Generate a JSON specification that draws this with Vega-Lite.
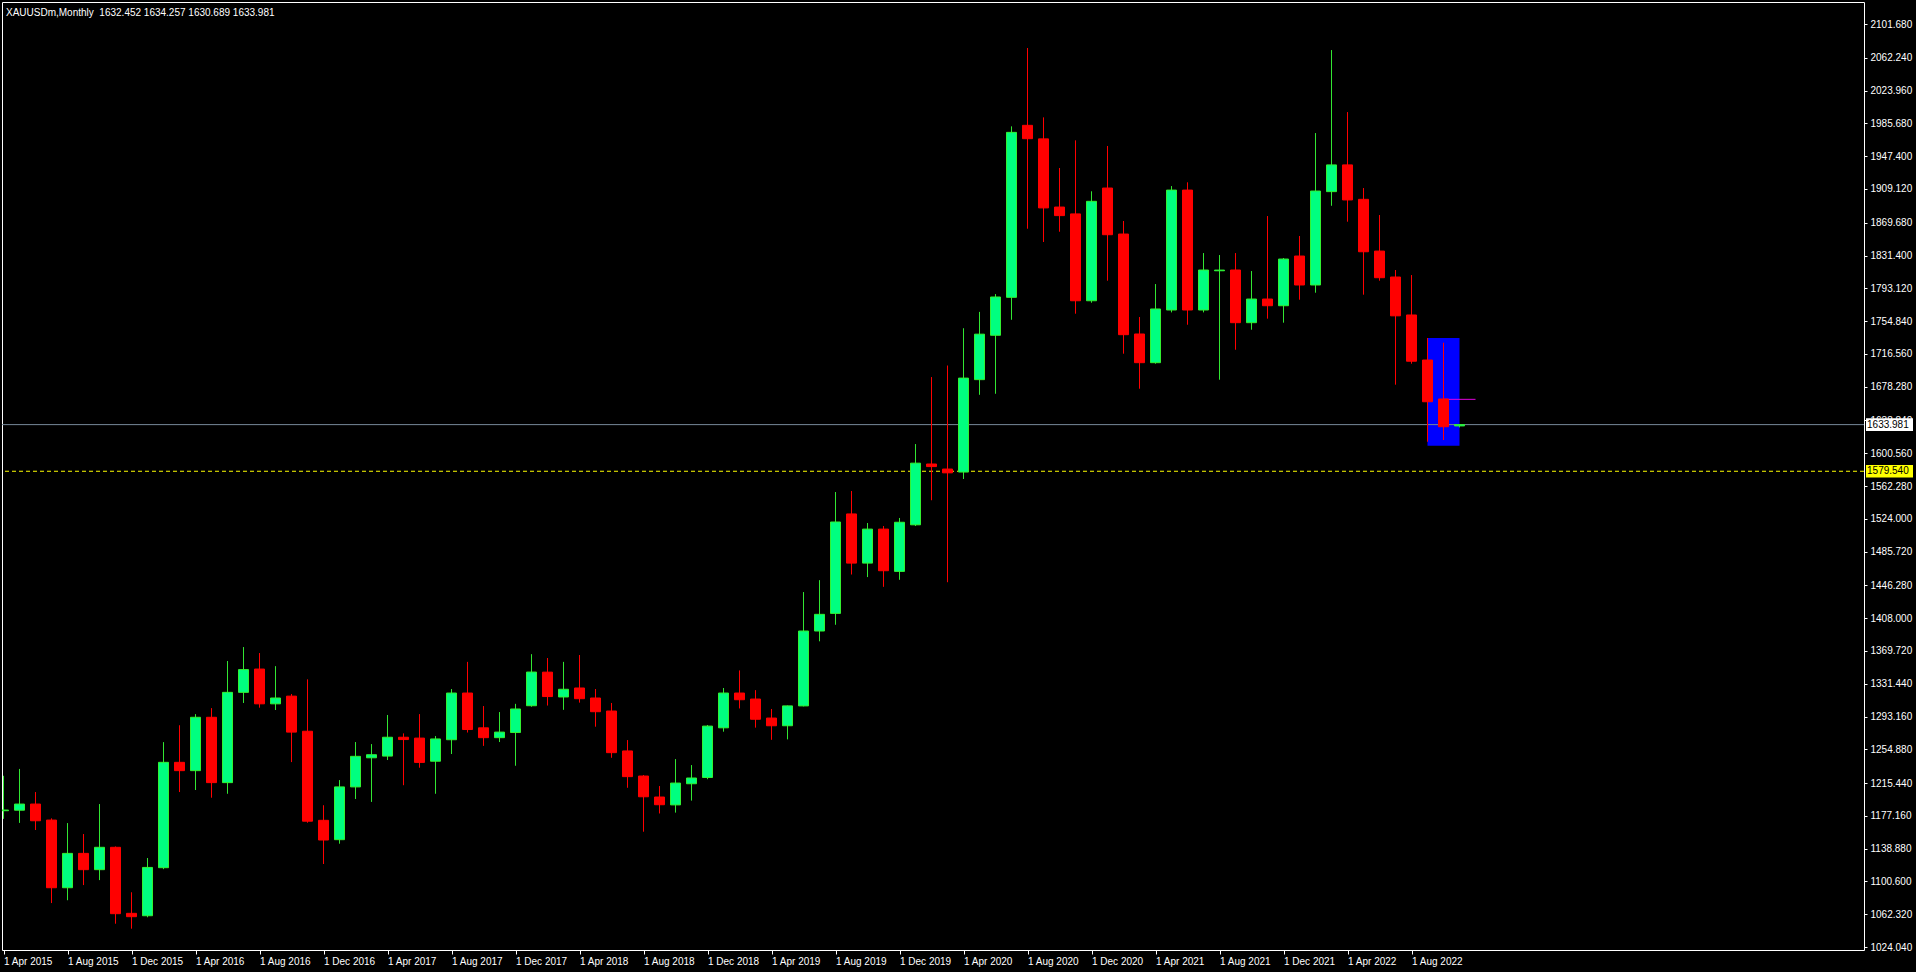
{
  "$schema": "https://vega.github.io/schema/vega-lite/v6.json",
  "width": 1862,
  "height": 948,
  "autosize": {"type": "none"},
  "padding": {"left": 2, "top": 2, "right": 52, "bottom": 22},
  "background": "#000000",
  "config": {
    "view": {"stroke": "#ffffff", "strokeWidth": 1},
    "axis": {"labelColor": "#ffffff", "tickColor": "#ffffff", "labelFont": "Liberation Sans", "labelFontSize": 10, "domain": false, "grid": false, "labelOverlap": false, "labelFlush": false, "labelBound": false, "labelSeparation": 0},
    "axisX": {"labelAlign": "left", "labelBaseline": "top", "labelPadding": 2, "tickSize": 4},
    "axisY": {"labelPadding": 3, "tickSize": 3}
  },
  "title": {
    "text": "XAUUSDm,Monthly\u00a0 1632.452 1634.257 1630.689 1633.981",
    "anchor": "start",
    "frame": "group",
    "orient": "top",
    "baseline": "alphabetic",
    "offset": -24,
    "dx": 4,
    "color": "#ffffff",
    "font": "Liberation Sans",
    "fontSize": 10,
    "fontWeight": "normal"
  },
  "datasets": {
    "candles": [
      {"i": 0, "o": 1183.2, "h": 1224.0, "l": 1173.7, "c": 1184.0},
      {"i": 1, "o": 1183.8, "h": 1232.0, "l": 1169.0, "c": 1191.0},
      {"i": 2, "o": 1191.0, "h": 1205.0, "l": 1160.7, "c": 1171.5},
      {"i": 3, "o": 1172.3, "h": 1174.3, "l": 1075.4, "c": 1093.3},
      {"i": 4, "o": 1093.3, "h": 1168.8, "l": 1078.7, "c": 1133.4},
      {"i": 5, "o": 1133.4, "h": 1156.0, "l": 1096.4, "c": 1114.4},
      {"i": 6, "o": 1114.4, "h": 1191.0, "l": 1102.2, "c": 1140.5},
      {"i": 7, "o": 1140.5, "h": 1141.5, "l": 1051.3, "c": 1063.0},
      {"i": 8, "o": 1063.4, "h": 1088.0, "l": 1045.5, "c": 1059.5},
      {"i": 9, "o": 1060.6, "h": 1128.0, "l": 1058.8, "c": 1117.0},
      {"i": 10, "o": 1116.7, "h": 1263.3, "l": 1115.0, "c": 1239.7},
      {"i": 11, "o": 1239.7, "h": 1283.0, "l": 1205.0, "c": 1230.0},
      {"i": 12, "o": 1230.0, "h": 1296.0, "l": 1207.4, "c": 1292.3},
      {"i": 13, "o": 1292.3, "h": 1303.0, "l": 1198.4, "c": 1216.0},
      {"i": 14, "o": 1216.0, "h": 1358.0, "l": 1203.0, "c": 1321.4},
      {"i": 15, "o": 1321.4, "h": 1374.3, "l": 1309.0, "c": 1348.0},
      {"i": 16, "o": 1348.6, "h": 1367.3, "l": 1303.5, "c": 1308.0},
      {"i": 17, "o": 1308.0, "h": 1352.0, "l": 1300.8, "c": 1314.8},
      {"i": 18, "o": 1317.0, "h": 1319.5, "l": 1240.0, "c": 1275.0},
      {"i": 19, "o": 1276.0, "h": 1336.6, "l": 1169.2, "c": 1171.0},
      {"i": 20, "o": 1172.0, "h": 1189.6, "l": 1121.0, "c": 1149.0},
      {"i": 21, "o": 1149.4, "h": 1219.0, "l": 1144.7, "c": 1211.0},
      {"i": 22, "o": 1211.0, "h": 1263.4, "l": 1196.9, "c": 1246.7},
      {"i": 23, "o": 1245.0, "h": 1261.0, "l": 1193.5, "c": 1248.6},
      {"i": 24, "o": 1247.0, "h": 1295.0, "l": 1242.4, "c": 1269.0},
      {"i": 25, "o": 1269.0, "h": 1273.5, "l": 1213.0, "c": 1266.3},
      {"i": 26, "o": 1268.0, "h": 1296.0, "l": 1233.4, "c": 1239.6},
      {"i": 27, "o": 1241.0, "h": 1270.4, "l": 1203.0, "c": 1267.0},
      {"i": 28, "o": 1266.1, "h": 1325.3, "l": 1249.4, "c": 1320.6},
      {"i": 29, "o": 1320.6, "h": 1357.0, "l": 1274.5, "c": 1278.0},
      {"i": 30, "o": 1280.0, "h": 1305.4, "l": 1258.9, "c": 1268.5},
      {"i": 31, "o": 1268.5, "h": 1298.4, "l": 1263.4, "c": 1275.0},
      {"i": 32, "o": 1274.5, "h": 1308.0, "l": 1235.7, "c": 1302.0},
      {"i": 33, "o": 1305.8, "h": 1366.0, "l": 1304.6, "c": 1345.1},
      {"i": 34, "o": 1345.0, "h": 1361.5, "l": 1306.0, "c": 1316.5},
      {"i": 35, "o": 1316.0, "h": 1357.0, "l": 1301.0, "c": 1325.0},
      {"i": 36, "o": 1326.5, "h": 1365.0, "l": 1309.4, "c": 1314.0},
      {"i": 37, "o": 1314.8, "h": 1325.3, "l": 1281.3, "c": 1298.8},
      {"i": 38, "o": 1299.6, "h": 1309.0, "l": 1245.0, "c": 1251.0},
      {"i": 39, "o": 1253.0, "h": 1265.7, "l": 1210.0, "c": 1223.0},
      {"i": 40, "o": 1223.7, "h": 1224.9, "l": 1158.7, "c": 1199.5},
      {"i": 41, "o": 1199.2, "h": 1212.0, "l": 1180.0, "c": 1190.2},
      {"i": 42, "o": 1190.0, "h": 1243.5, "l": 1181.0, "c": 1215.5},
      {"i": 43, "o": 1214.7, "h": 1236.5, "l": 1195.0, "c": 1221.4},
      {"i": 44, "o": 1222.0, "h": 1283.3, "l": 1220.0, "c": 1282.0},
      {"i": 45, "o": 1280.0, "h": 1326.5, "l": 1275.5, "c": 1320.6},
      {"i": 46, "o": 1320.6, "h": 1347.0, "l": 1302.6, "c": 1312.8},
      {"i": 47, "o": 1313.6, "h": 1324.0, "l": 1280.2, "c": 1290.0},
      {"i": 48, "o": 1291.4, "h": 1302.0, "l": 1266.0, "c": 1282.4},
      {"i": 49, "o": 1282.4, "h": 1306.0, "l": 1266.5, "c": 1305.6},
      {"i": 50, "o": 1305.6, "h": 1438.5, "l": 1305.0, "c": 1393.0},
      {"i": 51, "o": 1393.0, "h": 1452.4, "l": 1381.0, "c": 1412.5},
      {"i": 52, "o": 1413.6, "h": 1555.3, "l": 1400.3, "c": 1520.3},
      {"i": 53, "o": 1529.7, "h": 1556.5, "l": 1459.0, "c": 1472.3},
      {"i": 54, "o": 1472.3, "h": 1519.1, "l": 1456.0, "c": 1512.0},
      {"i": 55, "o": 1512.0, "h": 1515.6, "l": 1444.6, "c": 1463.4},
      {"i": 56, "o": 1462.6, "h": 1525.0, "l": 1452.8, "c": 1520.0},
      {"i": 57, "o": 1517.0, "h": 1611.3, "l": 1515.6, "c": 1589.0},
      {"i": 58, "o": 1588.0, "h": 1689.5, "l": 1545.7, "c": 1585.0},
      {"i": 59, "o": 1582.1, "h": 1703.0, "l": 1450.0, "c": 1577.7},
      {"i": 60, "o": 1578.6, "h": 1746.5, "l": 1570.5, "c": 1688.3},
      {"i": 61, "o": 1686.5, "h": 1765.6, "l": 1668.8, "c": 1739.6},
      {"i": 62, "o": 1738.3, "h": 1786.4, "l": 1670.0, "c": 1783.0},
      {"i": 63, "o": 1782.6, "h": 1982.2, "l": 1756.4, "c": 1975.2},
      {"i": 64, "o": 1983.4, "h": 2073.7, "l": 1862.7, "c": 1967.8},
      {"i": 65, "o": 1967.6, "h": 1992.7, "l": 1847.2, "c": 1887.0},
      {"i": 66, "o": 1888.0, "h": 1933.6, "l": 1859.2, "c": 1878.0},
      {"i": 67, "o": 1880.0, "h": 1965.9, "l": 1763.5, "c": 1778.6},
      {"i": 68, "o": 1778.6, "h": 1906.4, "l": 1776.3, "c": 1894.7},
      {"i": 69, "o": 1910.2, "h": 1959.3, "l": 1802.0, "c": 1855.7},
      {"i": 70, "o": 1856.5, "h": 1871.7, "l": 1716.8, "c": 1739.0},
      {"i": 71, "o": 1739.8, "h": 1759.6, "l": 1675.9, "c": 1706.3},
      {"i": 72, "o": 1706.3, "h": 1798.1, "l": 1705.1, "c": 1769.0},
      {"i": 73, "o": 1767.8, "h": 1912.5, "l": 1765.0, "c": 1907.8},
      {"i": 74, "o": 1907.8, "h": 1916.9, "l": 1750.6, "c": 1767.8},
      {"i": 75, "o": 1767.8, "h": 1834.3, "l": 1765.0, "c": 1814.5},
      {"i": 76, "o": 1813.6, "h": 1832.0, "l": 1686.4, "c": 1814.4},
      {"i": 77, "o": 1814.5, "h": 1834.3, "l": 1721.4, "c": 1753.0},
      {"i": 78, "o": 1753.0, "h": 1813.3, "l": 1744.8, "c": 1780.6},
      {"i": 79, "o": 1780.6, "h": 1877.5, "l": 1757.7, "c": 1772.8},
      {"i": 80, "o": 1772.8, "h": 1828.5, "l": 1753.0, "c": 1827.3},
      {"i": 81, "o": 1830.8, "h": 1854.2, "l": 1779.8, "c": 1797.0},
      {"i": 82, "o": 1797.0, "h": 1974.4, "l": 1788.0, "c": 1906.7},
      {"i": 83, "o": 1906.0, "h": 2071.3, "l": 1889.5, "c": 1937.2},
      {"i": 84, "o": 1937.2, "h": 1998.9, "l": 1870.9, "c": 1896.3},
      {"i": 85, "o": 1897.0, "h": 1910.2, "l": 1785.7, "c": 1835.8},
      {"i": 86, "o": 1836.6, "h": 1878.7, "l": 1802.0, "c": 1805.5},
      {"i": 87, "o": 1806.3, "h": 1814.5, "l": 1680.6, "c": 1761.0},
      {"i": 88, "o": 1762.0, "h": 1808.6, "l": 1705.1, "c": 1708.0},
      {"i": 89, "o": 1709.4, "h": 1735.1, "l": 1614.0, "c": 1660.7},
      {"i": 90, "o": 1663.9, "h": 1729.6, "l": 1616.0, "c": 1631.5},
      {"i": 91, "o": 1632.452, "h": 1634.257, "l": 1630.689, "c": 1633.981}
    ]
  },
  "layer": [
    {
      "data": {"values": [{"i1": 89, "i2": 91, "p1": 1735.1, "p2": 1609.3}]},
      "mark": {"type": "rect", "color": "#0000ff", "clip": true},
      "encoding": {
        "x": {"field": "i1", "type": "quantitative", "scale": {"domain": [-0.09375, 116.28125], "nice": false, "zero": false, "padding": 0},
          "axis": {"orient": "bottom", "title": null, "values": [0, 4, 8, 12, 16, 20, 24, 28, 32, 36, 40, 44, 48, 52, 56, 60, 64, 68, 72, 76, 80, 84, 88],
            "labelExpr": "'1 ' + ['Jan','Feb','Mar','Apr','May','Jun','Jul','Aug','Sep','Oct','Nov','Dec'][(datum.value + 3) % 12] + ' ' + (2015 + floor((datum.value + 3) / 12))"}},
        "x2": {"field": "i2"},
        "y": {"field": "p1", "type": "quantitative", "scale": {"domain": [1020.6, 2127.4], "nice": false, "zero": false, "padding": 0},
          "axis": {"orient": "right", "title": null, "format": ".3f", "values": [2101.68, 2062.24, 2023.96, 1985.68, 1947.4, 1909.12, 1869.68, 1831.4, 1793.12, 1754.84, 1716.56, 1678.28, 1638.84, 1600.56, 1562.28, 1524.0, 1485.72, 1446.28, 1408.0, 1369.72, 1331.44, 1293.16, 1254.88, 1215.44, 1177.16, 1138.88, 1100.6, 1062.32, 1024.04]}},
        "y2": {"field": "p2"}
      }
    },
    {
      "data": {"values": [{"p": 1633.981}]},
      "mark": {"type": "rule", "color": "#778899", "strokeWidth": 1, "clip": true},
      "encoding": {
        "y": {"field": "p", "type": "quantitative", "scale": {"domain": [1020.6, 2127.4], "nice": false, "zero": false, "padding": 0},
          "axis": {"orient": "right", "title": null, "format": ".3f", "values": [2101.68, 2062.24, 2023.96, 1985.68, 1947.4, 1909.12, 1869.68, 1831.4, 1793.12, 1754.84, 1716.56, 1678.28, 1638.84, 1600.56, 1562.28, 1524.0, 1485.72, 1446.28, 1408.0, 1369.72, 1331.44, 1293.16, 1254.88, 1215.44, 1177.16, 1138.88, 1100.6, 1062.32, 1024.04]}}
      }
    },
    {
      "data": {"values": [{"p": 1579.54}]},
      "mark": {"type": "rule", "color": "#ffff00", "strokeWidth": 1, "strokeDash": [4, 3], "clip": true},
      "encoding": {
        "y": {"field": "p", "type": "quantitative", "scale": {"domain": [1020.6, 2127.4], "nice": false, "zero": false, "padding": 0},
          "axis": {"orient": "right", "title": null, "format": ".3f", "values": [2101.68, 2062.24, 2023.96, 1985.68, 1947.4, 1909.12, 1869.68, 1831.4, 1793.12, 1754.84, 1716.56, 1678.28, 1638.84, 1600.56, 1562.28, 1524.0, 1485.72, 1446.28, 1408.0, 1369.72, 1331.44, 1293.16, 1254.88, 1215.44, 1177.16, 1138.88, 1100.6, 1062.32, 1024.04]}}
      }
    },
    {
      "data": {"values": [{"i1": 90, "i2": 92, "p": 1663.5}]},
      "mark": {"type": "rule", "color": "#e000e0", "strokeWidth": 1, "clip": true},
      "encoding": {
        "x": {"field": "i1", "type": "quantitative", "scale": {"domain": [-0.09375, 116.28125], "nice": false, "zero": false, "padding": 0},
          "axis": {"orient": "bottom", "title": null, "values": [0, 4, 8, 12, 16, 20, 24, 28, 32, 36, 40, 44, 48, 52, 56, 60, 64, 68, 72, 76, 80, 84, 88],
            "labelExpr": "'1 ' + ['Jan','Feb','Mar','Apr','May','Jun','Jul','Aug','Sep','Oct','Nov','Dec'][(datum.value + 3) % 12] + ' ' + (2015 + floor((datum.value + 3) / 12))"}},
        "x2": {"field": "i2"},
        "y": {"field": "p", "type": "quantitative", "scale": {"domain": [1020.6, 2127.4], "nice": false, "zero": false, "padding": 0},
          "axis": {"orient": "right", "title": null, "format": ".3f", "values": [2101.68, 2062.24, 2023.96, 1985.68, 1947.4, 1909.12, 1869.68, 1831.4, 1793.12, 1754.84, 1716.56, 1678.28, 1638.84, 1600.56, 1562.28, 1524.0, 1485.72, 1446.28, 1408.0, 1369.72, 1331.44, 1293.16, 1254.88, 1215.44, 1177.16, 1138.88, 1100.6, 1062.32, 1024.04]}}
      }
    },
    {
      "data": {"name": "candles"},
      "mark": {"type": "rule", "strokeWidth": 1, "clip": true},
      "encoding": {
        "x": {"field": "i", "type": "quantitative", "scale": {"domain": [-0.09375, 116.28125], "nice": false, "zero": false, "padding": 0},
          "axis": {"orient": "bottom", "title": null, "values": [0, 4, 8, 12, 16, 20, 24, 28, 32, 36, 40, 44, 48, 52, 56, 60, 64, 68, 72, 76, 80, 84, 88],
            "labelExpr": "'1 ' + ['Jan','Feb','Mar','Apr','May','Jun','Jul','Aug','Sep','Oct','Nov','Dec'][(datum.value + 3) % 12] + ' ' + (2015 + floor((datum.value + 3) / 12))"}},
        "y": {"field": "l", "type": "quantitative", "scale": {"domain": [1020.6, 2127.4], "nice": false, "zero": false, "padding": 0},
          "axis": {"orient": "right", "title": null, "format": ".3f", "values": [2101.68, 2062.24, 2023.96, 1985.68, 1947.4, 1909.12, 1869.68, 1831.4, 1793.12, 1754.84, 1716.56, 1678.28, 1638.84, 1600.56, 1562.28, 1524.0, 1485.72, 1446.28, 1408.0, 1369.72, 1331.44, 1293.16, 1254.88, 1215.44, 1177.16, 1138.88, 1100.6, 1062.32, 1024.04]}},
        "y2": {"field": "h"},
        "color": {"condition": {"test": "datum.c >= datum.o", "value": "#32e632"}, "value": "#ff0000"}
      }
    },
    {
      "data": {"name": "candles"},
      "mark": {"type": "bar", "size": 10, "strokeWidth": 1, "clip": true},
      "encoding": {
        "x": {"field": "i", "type": "quantitative", "scale": {"domain": [-0.09375, 116.28125], "nice": false, "zero": false, "padding": 0},
          "axis": {"orient": "bottom", "title": null, "values": [0, 4, 8, 12, 16, 20, 24, 28, 32, 36, 40, 44, 48, 52, 56, 60, 64, 68, 72, 76, 80, 84, 88],
            "labelExpr": "'1 ' + ['Jan','Feb','Mar','Apr','May','Jun','Jul','Aug','Sep','Oct','Nov','Dec'][(datum.value + 3) % 12] + ' ' + (2015 + floor((datum.value + 3) / 12))"}},
        "y": {"field": "o", "type": "quantitative", "scale": {"domain": [1020.6, 2127.4], "nice": false, "zero": false, "padding": 0},
          "axis": {"orient": "right", "title": null, "format": ".3f", "values": [2101.68, 2062.24, 2023.96, 1985.68, 1947.4, 1909.12, 1869.68, 1831.4, 1793.12, 1754.84, 1716.56, 1678.28, 1638.84, 1600.56, 1562.28, 1524.0, 1485.72, 1446.28, 1408.0, 1369.72, 1331.44, 1293.16, 1254.88, 1215.44, 1177.16, 1138.88, 1100.6, 1062.32, 1024.04]}},
        "y2": {"field": "c"},
        "fill": {"condition": {"test": "datum.c >= datum.o", "value": "#00ff7f"}, "value": "#ff0000"},
        "stroke": {"condition": {"test": "datum.c >= datum.o", "value": "#32f032"}, "value": "#ff0000"}
      }
    },
    {
      "data": {"values": [{"p": 1633.981, "k": "bid"}, {"p": 1579.54, "k": "line"}]},
      "mark": {"type": "point", "shape": "M-1,-0.27L1,-0.27L1,0.27L-1,0.27Z", "size": 2209, "filled": true, "opacity": 1, "strokeWidth": 0, "clip": false},
      "encoding": {
        "x": {"datum": 117.875, "type": "quantitative", "scale": {"domain": [-0.09375, 116.28125], "nice": false, "zero": false, "padding": 0},
          "axis": {"orient": "bottom", "title": null, "values": [0, 4, 8, 12, 16, 20, 24, 28, 32, 36, 40, 44, 48, 52, 56, 60, 64, 68, 72, 76, 80, 84, 88],
            "labelExpr": "'1 ' + ['Jan','Feb','Mar','Apr','May','Jun','Jul','Aug','Sep','Oct','Nov','Dec'][(datum.value + 3) % 12] + ' ' + (2015 + floor((datum.value + 3) / 12))"}},
        "y": {"field": "p", "type": "quantitative", "scale": {"domain": [1020.6, 2127.4], "nice": false, "zero": false, "padding": 0},
          "axis": {"orient": "right", "title": null, "format": ".3f", "values": [2101.68, 2062.24, 2023.96, 1985.68, 1947.4, 1909.12, 1869.68, 1831.4, 1793.12, 1754.84, 1716.56, 1678.28, 1638.84, 1600.56, 1562.28, 1524.0, 1485.72, 1446.28, 1408.0, 1369.72, 1331.44, 1293.16, 1254.88, 1215.44, 1177.16, 1138.88, 1100.6, 1062.32, 1024.04]}},
        "fill": {"field": "k", "type": "nominal", "scale": {"domain": ["bid", "line"], "range": ["#ffffff", "#ffff00"]}, "legend": null}
      }
    },
    {
      "data": {"values": [{"p": 1633.981, "t": "1633.981"}, {"p": 1579.54, "t": "1579.540"}]},
      "mark": {"type": "text", "align": "left", "baseline": "middle", "font": "Liberation Sans", "fontSize": 10, "color": "#000000", "clip": false},
      "encoding": {
        "x": {"datum": 116.47, "type": "quantitative", "scale": {"domain": [-0.09375, 116.28125], "nice": false, "zero": false, "padding": 0},
          "axis": {"orient": "bottom", "title": null, "values": [0, 4, 8, 12, 16, 20, 24, 28, 32, 36, 40, 44, 48, 52, 56, 60, 64, 68, 72, 76, 80, 84, 88],
            "labelExpr": "'1 ' + ['Jan','Feb','Mar','Apr','May','Jun','Jul','Aug','Sep','Oct','Nov','Dec'][(datum.value + 3) % 12] + ' ' + (2015 + floor((datum.value + 3) / 12))"}},
        "y": {"field": "p", "type": "quantitative", "scale": {"domain": [1020.6, 2127.4], "nice": false, "zero": false, "padding": 0},
          "axis": {"orient": "right", "title": null, "format": ".3f", "values": [2101.68, 2062.24, 2023.96, 1985.68, 1947.4, 1909.12, 1869.68, 1831.4, 1793.12, 1754.84, 1716.56, 1678.28, 1638.84, 1600.56, 1562.28, 1524.0, 1485.72, 1446.28, 1408.0, 1369.72, 1331.44, 1293.16, 1254.88, 1215.44, 1177.16, 1138.88, 1100.6, 1062.32, 1024.04]}},
        "text": {"field": "t"}
      }
    }
  ]
}
